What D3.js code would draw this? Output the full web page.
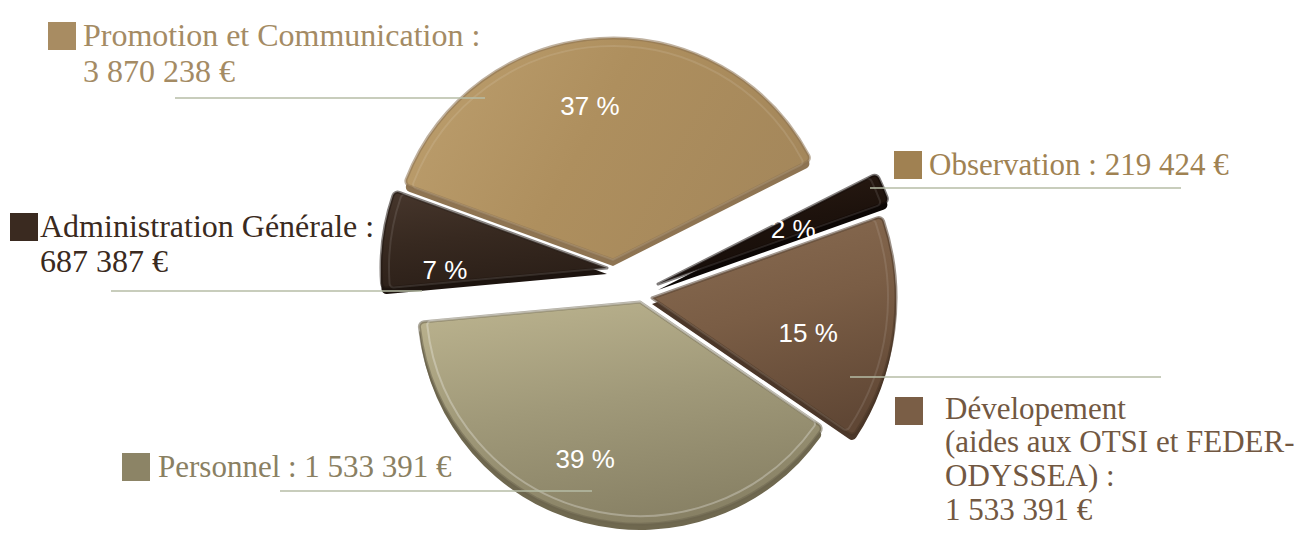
<!DOCTYPE html>
<html><head><meta charset="utf-8">
<script src="https://cdn.jsdelivr.net/npm/d3@7"></script>
<style>html,body{margin:0;padding:0;background:#fff}svg{display:block}</style>
</head><body><svg id="chart" width="1294" height="535"></svg>
<script>
// ---- data ----
const categories = ["Promotion et Communication", "Observation", "Dévelopement", "Personnel", "Administration Générale"];
const percentages = [37, 2, 15, 39, 7];
const amounts = ["3 870 238 €", "219 424 €", "1 533 391 €", "1 533 391 €", "687 387 €"];
const percentLabels = ["37 %", "2 %", "15 %", "39 %", "7 %"];
const developmentDetail = ["(aides aux OTSI et FEDER-", "ODYSSEA) :"];

// ---- layout / style ----
const center = [628, 282];
const sliceShift = [[-15, -22], [30, 2], [24, 16], [12, 20], [-21, -14]];
const sliceRadius = [222, 245, 244, 222, 226];
const labelPolar = [[-8.5, 156], [67.8, 146], [102.6, 160], [199.3, 166], [269.3, 162]];
const topColors = [["#bb9d6c", "#ae8f5e", "#a4875b"], ["#2a1b13", "#1d120c", "#140c08"], ["#876a50", "#7a5d45", "#604735"], ["#b8b08c", "#a09979", "#878064"], ["#44342a", "#372920", "#2a1e17"]];
const edgeColors = ["#8a7150", "#0e0806", "#4a3627", "#6c654e", "#1f1610"];
const sideColors = ["#8e7452", "#0c0705", "#4b3729", "#6f684f", "#1d140f"];
const squareColors = ["#a88c62", "#a08152", "#7a5e46", "#8c8466", "#3a2a20"];
const textColors = ["#a48b64", "#a08252", "#725842", "#8a8062", "#3a2a20"];
const fontSizes = [32, 31, 31, 31, 32];
const labelLayout = [
  {sq: [48, 22], tx: 83, base: [46, 82], line: [175, 485, 98]},
  {sq: [894, 151], tx: 929, base: [175], line: [870, 1181, 188]},
  {sq: [895, 397], tx: 945, base: [419, 452, 486, 520], line: [850, 1161, 377]},
  {sq: [122, 453], tx: 158, base: [477], line: [280, 592, 491]},
  {sq: [10, 213], tx: 40, base: [237, 272], line: [111, 422, 291]}
];
const labelLines = [
  [categories[0] + " :", amounts[0]],
  [categories[1] + " : " + amounts[1]],
  [categories[2], ...developmentDetail, amounts[2]],
  [categories[3] + " : " + amounts[3]],
  [categories[4] + " :", amounts[4]]
];

const svg = d3.select("#chart");
const defs = svg.append("defs");
topColors.forEach((c, i) => {
  const g = defs.append("linearGradient").attr("id", "g" + i)
    .attr("x1", i === 0 ? "0" : "0.3").attr("y1", i === 0 ? "0.3" : "0")
    .attr("x2", i === 0 ? "1" : "0.6").attr("y2", i === 0 ? "0.6" : "1");
  g.append("stop").attr("offset", "0").attr("stop-color", c[0]);
  g.append("stop").attr("offset", "0.45").attr("stop-color", c[1]);
  g.append("stop").attr("offset", "1").attr("stop-color", c[2]);
});

const pie = d3.pie().sort(null).value(d => d)
  .startAngle(-70 * Math.PI / 180).endAngle(290 * Math.PI / 180);
const arcs = pie(percentages);
const arcGen = d3.arc().innerRadius(0).outerRadius((d) => sliceRadius[d.index]).cornerRadius(5);

const pieG = svg.append("g").attr("transform", `translate(${center[0]},${center[1]})`);
const slices = pieG.selectAll("g.slice").data(arcs).join("g").attr("class", "slice")
  .attr("transform", d => `translate(${sliceShift[d.index][0]},${sliceShift[d.index][1]})`);

// thickness (side)
slices.append("path").attr("d", arcGen).attr("transform", "translate(0,6)")
  .attr("fill", d => sideColors[d.index]);
// top face
slices.append("path").attr("d", arcGen)
  .attr("fill", d => `url(#g${d.index})`)
  .attr("stroke", d => edgeColors[d.index]).attr("stroke-opacity", 0.55).attr("stroke-width", 3)
  .attr("stroke-linejoin", "round");
// inner highlight
const innerArc = d3.arc().innerRadius(0).outerRadius(d => sliceRadius[d.index] - 8).cornerRadius(4);
slices.append("path").attr("d", innerArc).attr("fill", "none")
  .attr("stroke", "#ffffff").attr("stroke-opacity", d => d.index === 3 ? 0.28 : 0.1).attr("stroke-width", 2);

// percentage labels (top layer)
const labelG = pieG.append("g");
labelG.selectAll("text").data(arcs).join("text")
  .attr("x", d => sliceShift[d.index][0] + labelPolar[d.index][1] * Math.sin(labelPolar[d.index][0] * Math.PI / 180))
  .attr("y", d => sliceShift[d.index][1] - labelPolar[d.index][1] * Math.cos(labelPolar[d.index][0] * Math.PI / 180))
  .attr("dy", "0.35em").attr("text-anchor", "middle")
  .attr("font-family", "Liberation Sans, Arial, sans-serif").attr("font-size", 26)
  .attr("fill", "#ffffff").text(d => percentLabels[d.index]);

// leader lines
svg.selectAll("line.leader").data(labelLayout).join("line").attr("class", "leader")
  .attr("x1", d => d.line[0]).attr("x2", d => d.line[1])
  .attr("y1", d => d.line[2]).attr("y2", d => d.line[2])
  .attr("stroke", "#b6bda6").attr("stroke-width", 1.5);

// legend squares + text
const leg = svg.selectAll("g.leg").data(labelLayout).join("g").attr("class", "leg");
leg.append("rect").attr("x", d => d.sq[0]).attr("y", d => d.sq[1]).attr("width", 28).attr("height", 28)
  .attr("fill", (d, i) => squareColors[i]);
leg.each(function(d, i) {
  const g = d3.select(this);
  labelLines[i].forEach((t, j) => {
    g.append("text").attr("x", d.tx).attr("y", d.base[j])
      .attr("font-family", "Liberation Serif, Times New Roman, serif").attr("font-size", fontSizes[i])
      .attr("fill", textColors[i]).text(t);
  });
});
</script></body></html>
